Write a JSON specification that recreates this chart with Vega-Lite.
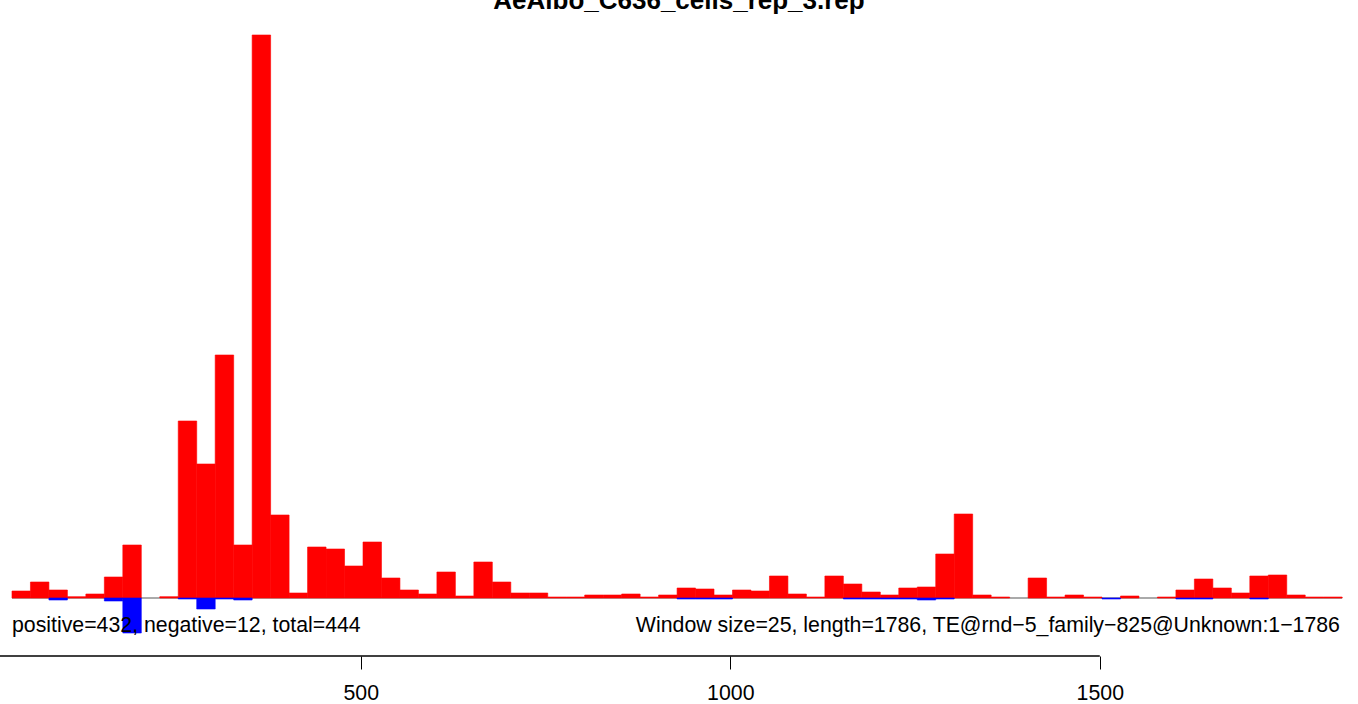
{
  "$schema": "https://vega.github.io/schema/vega-lite/v6.json",
  "width": 1358,
  "height": 656,
  "autosize": {"type": "none"},
  "padding": {"left": 0, "right": 0, "top": 0, "bottom": 48},
  "background": "white",
  "config": {"view": {"stroke": null}, "font": "Liberation Sans"},
  "datasets": {
    "bins": [
      {"start": 28, "end": 53, "pos": 7, "neg": 0},
      {"start": 53, "end": 78, "pos": 16, "neg": 0},
      {"start": 78, "end": 103, "pos": 8, "neg": -2},
      {"start": 103, "end": 128, "pos": 1.3, "neg": 0},
      {"start": 128, "end": 153, "pos": 4, "neg": 0},
      {"start": 153, "end": 178, "pos": 21, "neg": -3},
      {"start": 178, "end": 203, "pos": 53, "neg": -35},
      {"start": 203, "end": 228, "pos": 0, "neg": 0},
      {"start": 228, "end": 253, "pos": 1.3, "neg": 0},
      {"start": 253, "end": 278, "pos": 177, "neg": -1},
      {"start": 278, "end": 303, "pos": 134, "neg": -11},
      {"start": 303, "end": 328, "pos": 243, "neg": -1},
      {"start": 328, "end": 353, "pos": 53, "neg": -2},
      {"start": 353, "end": 378, "pos": 563, "neg": 0},
      {"start": 378, "end": 403, "pos": 83, "neg": 0},
      {"start": 403, "end": 428, "pos": 5, "neg": 0},
      {"start": 428, "end": 453, "pos": 51, "neg": 0},
      {"start": 453, "end": 478, "pos": 49, "neg": 0},
      {"start": 478, "end": 503, "pos": 32, "neg": 0},
      {"start": 503, "end": 528, "pos": 56, "neg": 0},
      {"start": 528, "end": 553, "pos": 20, "neg": 0},
      {"start": 553, "end": 578, "pos": 8, "neg": 0},
      {"start": 578, "end": 603, "pos": 4, "neg": 0},
      {"start": 603, "end": 628, "pos": 26, "neg": 0},
      {"start": 628, "end": 653, "pos": 2, "neg": 0},
      {"start": 653, "end": 678, "pos": 36, "neg": 0},
      {"start": 678, "end": 703, "pos": 16, "neg": 0},
      {"start": 703, "end": 728, "pos": 5, "neg": 0},
      {"start": 728, "end": 753, "pos": 5, "neg": 0},
      {"start": 753, "end": 778, "pos": 1, "neg": 0},
      {"start": 778, "end": 803, "pos": 1, "neg": 0},
      {"start": 803, "end": 828, "pos": 3, "neg": 0},
      {"start": 828, "end": 853, "pos": 3, "neg": 0},
      {"start": 853, "end": 878, "pos": 4, "neg": 0},
      {"start": 878, "end": 903, "pos": 1, "neg": 0},
      {"start": 903, "end": 928, "pos": 3, "neg": 0},
      {"start": 928, "end": 953, "pos": 10, "neg": -1},
      {"start": 953, "end": 978, "pos": 9, "neg": -1},
      {"start": 978, "end": 1003, "pos": 3, "neg": -1},
      {"start": 1003, "end": 1028, "pos": 8, "neg": 0},
      {"start": 1028, "end": 1053, "pos": 7, "neg": 0},
      {"start": 1053, "end": 1078, "pos": 22, "neg": 0},
      {"start": 1078, "end": 1103, "pos": 4, "neg": 0},
      {"start": 1103, "end": 1128, "pos": 1, "neg": 0},
      {"start": 1128, "end": 1153, "pos": 22, "neg": 0},
      {"start": 1153, "end": 1178, "pos": 14, "neg": -1},
      {"start": 1178, "end": 1203, "pos": 6, "neg": -1},
      {"start": 1203, "end": 1228, "pos": 3, "neg": -1},
      {"start": 1228, "end": 1253, "pos": 10, "neg": -1},
      {"start": 1253, "end": 1278, "pos": 11, "neg": -2},
      {"start": 1278, "end": 1303, "pos": 44, "neg": -1},
      {"start": 1303, "end": 1328, "pos": 84, "neg": 0},
      {"start": 1328, "end": 1353, "pos": 3, "neg": 0},
      {"start": 1353, "end": 1378, "pos": 1, "neg": 0},
      {"start": 1378, "end": 1403, "pos": 0, "neg": 0},
      {"start": 1403, "end": 1428, "pos": 20, "neg": 0},
      {"start": 1428, "end": 1453, "pos": 1, "neg": 0},
      {"start": 1453, "end": 1478, "pos": 3, "neg": 0},
      {"start": 1478, "end": 1503, "pos": 1, "neg": 0},
      {"start": 1503, "end": 1528, "pos": 0, "neg": -1},
      {"start": 1528, "end": 1553, "pos": 2, "neg": 0},
      {"start": 1553, "end": 1578, "pos": 0, "neg": 0},
      {"start": 1578, "end": 1603, "pos": 1, "neg": 0},
      {"start": 1603, "end": 1628, "pos": 8, "neg": -1},
      {"start": 1628, "end": 1653, "pos": 19, "neg": -1},
      {"start": 1653, "end": 1678, "pos": 10, "neg": 0},
      {"start": 1678, "end": 1703, "pos": 5, "neg": 0},
      {"start": 1703, "end": 1728, "pos": 22, "neg": -1},
      {"start": 1728, "end": 1753, "pos": 23, "neg": 0},
      {"start": 1753, "end": 1778, "pos": 3, "neg": 0},
      {"start": 1778, "end": 1803, "pos": 1, "neg": 0},
      {"start": 1803, "end": 1828, "pos": 1, "neg": 0}
    ]
  },
  "layer": [
    {
      "data": {"values": [{"from": 28, "to": 1828, "level": 0}]},
      "mark": {"type": "rule", "color": "#aaaaaa", "strokeWidth": 2},
      "encoding": {
        "x": {
          "field": "from", "type": "quantitative",
          "scale": {"domain": [11.8, 1849.4], "nice": false, "zero": false},
          "axis": {
            "values": [500, 1000, 1500],
            "format": "d",
            "domain": false,
            "grid": false,
            "ticks": true,
            "tickSize": 13,
            "tickColor": "black",
            "tickWidth": 1,
            "labelFont": "Liberation Sans",
            "labelFontSize": 21.3,
            "labelColor": "black",
            "labelBaseline": "alphabetic",
            "labelPadding": 30,
            "labelFlush": false,
            "labelOverlap": false,
            "title": null
          }
        },
        "x2": {"field": "to"},
        "y": {"field": "level", "type": "quantitative", "scale": {"domain": [-58, 598], "nice": false, "zero": false}, "axis": null}
      }
    },
    {
      "data": {"name": "bins"},
      "transform": [{"filter": "datum.pos > 0"}],
      "mark": {"type": "bar", "color": "#ff0000", "stroke": "#ff0000", "strokeWidth": 0.6},
      "encoding": {
        "x": {"field": "start", "type": "quantitative"},
        "x2": {"field": "end"},
        "y": {"field": "pos", "type": "quantitative", "axis": null},
        "y2": {"datum": 0}
      }
    },
    {
      "data": {"name": "bins"},
      "transform": [{"filter": "datum.neg < 0"}],
      "mark": {"type": "bar", "color": "#0000ff", "stroke": "#0000ff", "strokeWidth": 0.6},
      "encoding": {
        "x": {"field": "start", "type": "quantitative"},
        "x2": {"field": "end"},
        "y": {"field": "neg", "type": "quantitative", "axis": null},
        "y2": {"datum": 0}
      }
    },
    {
      "data": {"values": [{"from": 0, "to": 1500, "level": -58}]},
      "mark": {"type": "rule", "color": "black", "strokeWidth": 1.5},
      "encoding": {
        "x": {"field": "from", "type": "quantitative"},
        "x2": {"field": "to"},
        "y": {"field": "level", "type": "quantitative", "axis": null}
      }
    },
    {
      "data": {"values": [{"label": "AeAlbo_C636_cells_rep_3.rep", "px": 930.6, "py": 589}]},
      "mark": {"type": "text", "align": "center", "baseline": "alphabetic", "font": "Liberation Sans", "fontSize": 26, "fontWeight": "bold", "color": "black"},
      "encoding": {
        "x": {"field": "px", "type": "quantitative"},
        "y": {"field": "py", "type": "quantitative", "axis": null},
        "text": {"field": "label"}
      }
    },
    {
      "data": {"values": [{"label": "positive=432, negative=12, total=444", "px": 28, "py": -34}]},
      "mark": {"type": "text", "align": "left", "baseline": "alphabetic", "font": "Liberation Sans", "fontSize": 21.3, "color": "black"},
      "encoding": {
        "x": {"field": "px", "type": "quantitative"},
        "y": {"field": "py", "type": "quantitative", "axis": null},
        "text": {"field": "label"}
      }
    },
    {
      "data": {"values": [{"label": "Window size=25, length=1786, TE@rnd−5_family−825@Unknown:1−1786", "px": 1825, "py": -34}]},
      "mark": {"type": "text", "align": "right", "baseline": "alphabetic", "font": "Liberation Sans", "fontSize": 21.3, "color": "black"},
      "encoding": {
        "x": {"field": "px", "type": "quantitative"},
        "y": {"field": "py", "type": "quantitative", "axis": null},
        "text": {"field": "label"}
      }
    }
  ]
}
